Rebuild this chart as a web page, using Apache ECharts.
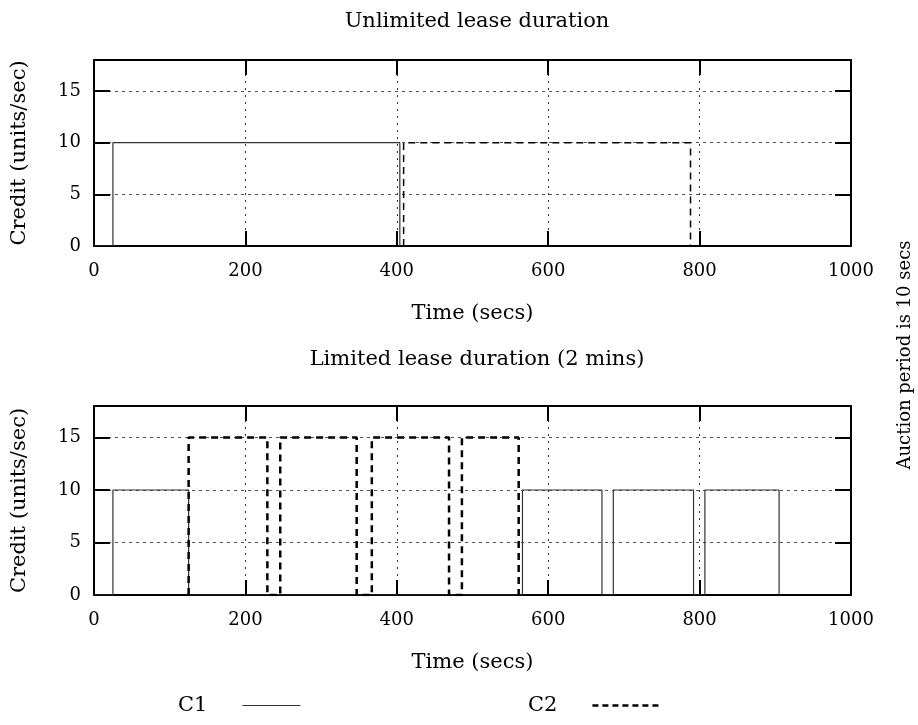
<!DOCTYPE html>
<html>
<head>
<meta charset="utf-8">
<script src="https://cdn.jsdelivr.net/npm/echarts@6/dist/echarts.min.js"></script>
<style>
  html, body { margin: 0; padding: 0; background: #fff; }
  #chart { width: 918px; height: 725px; }
</style>
</head>
<body>
<div id="chart"></div>
<script>
// step data: [time, credit] corner points
var unlimitedC1 = [[0, 0], [25, 0], [25, 10], [404, 10], [404, 0]];
var unlimitedC2 = [[409, 0], [409, 10], [788, 10], [788, 0]];
var limitedC1 = [[0, 0], [25, 0], [25, 10], [125, 10], [125, 0], [566, 0], [566, 10], [671, 10], [671, 0],
                 [686, 0], [686, 10], [792, 10], [792, 0], [807, 0], [807, 10], [905, 10], [905, 0]];
var limitedC2 = [[125, 0], [125, 15], [229, 15], [229, 0], [246, 0], [246, 15], [347, 15], [347, 0],
                 [367, 0], [367, 15], [469, 15], [469, 0], [486, 0], [486, 15], [561, 15], [561, 0]];
var titles = ['Unlimited lease duration', 'Limited lease duration (2 mins)'];
var xName = 'Time (secs)';
var yName = 'Credit (units/sec)';
var sideNote = 'Auction period is 10 secs';

var FONT = 'DejaVu Serif';
var chart = echarts.init(document.getElementById('chart'));

var grids = [
    {left: 94, top: 60, width: 757, height: 186},
    {left: 94, top: 406, width: 757, height: 189}
];

function xAx(gi, pos) {
    var main = pos === 'bottom';
    return {
        type: 'value', gridIndex: gi, position: pos, min: 0, max: 1000, interval: 200,
        name: main ? xName : '', nameLocation: 'middle', nameGap: 57,
        nameTextStyle: {fontFamily: FONT, fontSize: 21, color: '#000'},
        axisLine: {show: true, onZero: false, lineStyle: {color: '#000', width: 2}},
        axisTick: {show: true, inside: true, length: 15, lineStyle: {color: '#000', width: 2}},
        axisLabel: {show: main, margin: 16, fontFamily: FONT, fontSize: 18, color: '#000',
                    formatter: function (v) { return String(v); }},
        splitLine: {show: main, lineStyle: {color: '#333', width: 1, type: [2, 5]}}
    };
}
function yAx(gi, pos) {
    var main = pos === 'left';
    return {
        type: 'value', gridIndex: gi, position: pos, min: 0, max: 18, interval: 5,
        name: main ? yName : '', nameLocation: 'middle', nameGap: 64, nameRotate: 90,
        nameTextStyle: {fontFamily: FONT, fontSize: 21, color: '#000'},
        axisLine: {show: true, onZero: false, lineStyle: {color: '#000', width: 2}},
        axisTick: {show: true, inside: true, length: 16, lineStyle: {color: '#000', width: 2}},
        axisLabel: {show: main, margin: 13, showMaxLabel: false, fontFamily: FONT, fontSize: 18, color: '#000'},
        splitLine: {show: main, lineStyle: {color: '#555', width: 1, type: [3, 4]}}
    };
}

function stepSeries(name, data, gi, dashed, w) {
    return {
        name: name, type: 'line', xAxisIndex: gi * 2, yAxisIndex: gi * 2,
        data: data, showSymbol: false, symbol: 'none', animation: false,
        lineStyle: {color: dashed ? '#000' : '#333', width: w, type: dashed ? [7, 5] : 'solid'},
        itemStyle: {color: '#000'}
    };
}

function legendAt(name, left) {
    return {
        data: [name], left: left, top: 695, padding: 0, align: 'right',
        itemWidth: name === 'C1' ? 58 : 66, itemHeight: 14,
        itemStyle: {opacity: 0},
        lineStyle: {width: name === 'C1' ? 1.2 : 2.5, type: name === 'C1' ? 'solid' : [6, 4]},
        formatter: '{a|{name}}',
        textStyle: {rich: {a: {fontFamily: FONT, fontSize: 21, color: '#000', padding: [0, 30, 0, 0]}}}
    };
}

var option = {
    backgroundColor: '#fff',
    animation: false,
    title: [
        {text: titles[0], left: 472, textAlign: 'center', top: 6, textStyle: {fontFamily: FONT, fontSize: 21, fontWeight: 'normal', color: '#000'}},
        {text: titles[1], left: 472, textAlign: 'center', top: 344, textStyle: {fontFamily: FONT, fontSize: 21, fontWeight: 'normal', color: '#000'}}
    ],
    grid: grids,
    xAxis: [xAx(0, 'bottom'), xAx(0, 'top'), xAx(1, 'bottom'), xAx(1, 'top')],
    yAxis: [yAx(0, 'left'), yAx(0, 'right'), yAx(1, 'left'), yAx(1, 'right')],
    legend: [legendAt('C1', 178), legendAt('C2', 528)],
    graphic: [{
        type: 'text', x: 905, y: 355, rotation: Math.PI / 2,
        style: {text: sideNote, fontFamily: FONT, fontSize: 18, fill: '#000', align: 'center', verticalAlign: 'middle'}
    }],
    series: [
        stepSeries('C1', unlimitedC1, 0, false, 1.2),
        stepSeries('C2', unlimitedC2, 0, true, 1.5),
        stepSeries('C1', limitedC1, 1, false, 1.2),
        stepSeries('C2', limitedC2, 1, true, 2.5)
    ]
};
chart.setOption(option);
</script>
</body>
</html>
